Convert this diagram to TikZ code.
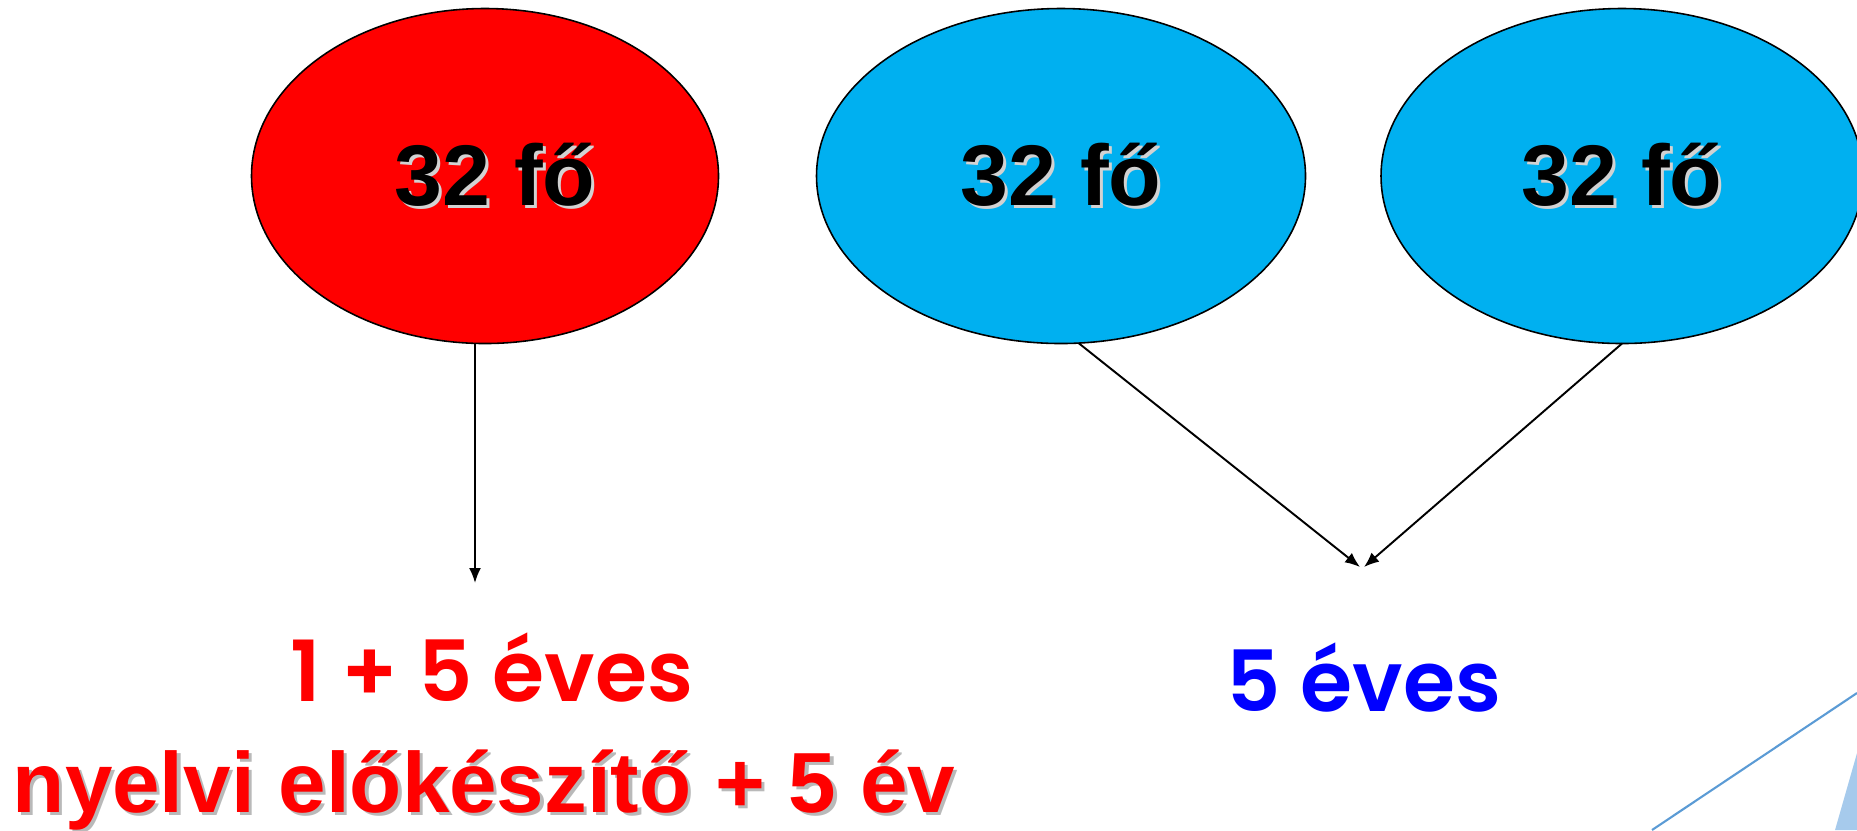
\documentclass[tikz,border=0pt]{standalone}
\usepackage{fontspec}
\setmainfont{Liberation Sans}
\newfontfamily\geofont{Poppins SemiBold}
\usepackage{tikz}
\usetikzlibrary{shapes.geometric,positioning,arrows.meta,calc}
\definecolor{grpred}{HTML}{FF0000}
\definecolor{grpcyan}{HTML}{00B0F0}
\definecolor{grpblue}{HTML}{0000FF}
\definecolor{decoline}{HTML}{5B9BD5}
\definecolor{decofill}{HTML}{A6CAEC}
\newcommand{\shtext}[2][gray!35]{\leavevmode\rlap{\hspace{0.9pt}\raisebox{-0.9pt}{\color{#1}#2}}#2}

\begin{document}
\begin{tikzpicture}[
    group/.style={ellipse, draw=black, line width=0.45pt, inner sep=0pt, outer sep=0pt, minimum height=3.35cm, font=\fontsize{24.5}{28}\selectfont\bfseries},
    years/.style={anchor=base, inner sep=0pt, font=\geofont\fontsize{24}{30}\selectfont},
    arr/.style={-{Latex[length=1.5mm,width=1.2mm]}, line width=0.55pt}
]
\useasboundingbox (0,0) rectangle (18.57,-8.30);
\begin{scope}
\clip (0,0) rectangle (18.57,-8.30);
\node[group, fill=grpred, minimum width=4.67cm] (red) at (4.85,-1.76) {\hspace{0.2cm}\raisebox{-0.08cm}{\shtext{32 fő}}};
\foreach \x/\w/\name in {10.61/4.89/blueA,16.22/4.82/blueB}{
  \node[group, fill=grpcyan, minimum width=\w cm] (\name) at (\x,-1.76) {\raisebox{-0.08cm}{\shtext{32 fő}}};}
% decoration in the corner
\draw[decoline, line width=0.6pt] (16.52,-8.30) -- (18.57,-6.93);
\fill[decofill] (18.35,-8.30) -- (18.57,-7.53) -- (18.57,-8.30) -- cycle;
\end{scope}

\coordinate (redtip) at (4.75,-5.83);
\coordinate (bluetip) at (13.62,-5.67);
\draw[arr] (red.south -| redtip) -- (redtip);
\draw[arr] (blueA.-84) -- ($(bluetip)+(-0.02,0)$);
\draw[arr] (blueB.south) -- ($(bluetip)+(0.02,0)$);

\node[years, text=grpred] (redyears) at (4.92,-7.01) {1 + 5 éves};
\node[anchor=base, inner sep=0pt, text=grpred, font=\fontsize{24.3}{28}\selectfont\bfseries] (redprep) at (4.84,-8.12) {\shtext[gray!55]{nyelvi előkészítő + 5 év}};
\node[years, text=grpblue] (blueyears) at (13.64,-7.11) {5 éves};
\end{tikzpicture}
\end{document}
